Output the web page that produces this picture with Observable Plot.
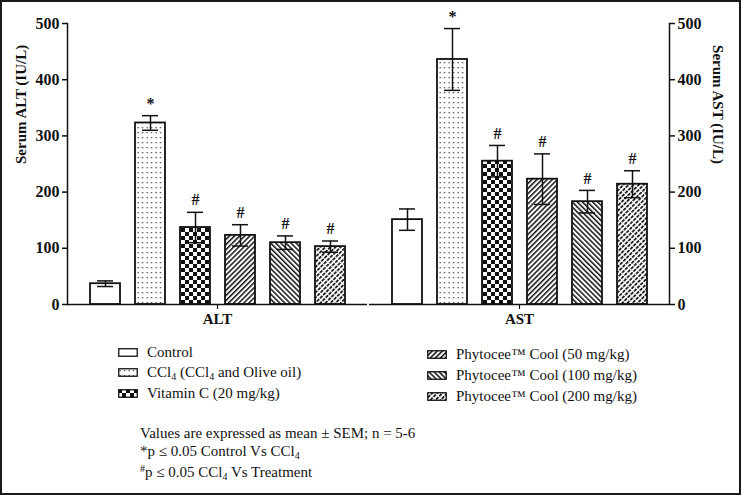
<!DOCTYPE html>
<html><head><meta charset="utf-8">
<script src="https://cdn.jsdelivr.net/npm/d3@7"></script>
<script src="https://cdn.jsdelivr.net/npm/@observablehq/plot@0.6"></script>
<style>
body{margin:0;background:#fff;}
#wrap{position:relative;width:741px;height:497px;font-family:"Liberation Serif","Times New Roman",serif;color:#111;background:#fff;}
#frame{position:absolute;left:0;top:0;width:741px;height:495px;border:2px solid #1a1a1a;box-sizing:border-box;pointer-events:none;}
#chart{position:absolute;left:0;top:0;}
.leg{position:absolute;font-size:15px;height:16px;line-height:16px;white-space:nowrap;display:flex;align-items:center;}
.sw{width:20px;height:9px;margin-right:9px;display:block;}
.note{position:absolute;left:140px;font-size:15px;line-height:16px;height:16px;white-space:nowrap;}
sub{font-size:10px;vertical-align:-3px;line-height:0;}
sup{font-size:10px;vertical-align:5px;line-height:0;}
</style></head><body>
<svg width="0" height="0" style="position:absolute;left:0;top:0">
<defs>
<pattern id="pControl" width="4" height="4" patternUnits="userSpaceOnUse"><rect width="4" height="4" fill="#fff"/></pattern>
<pattern id="pDots" width="4.5" height="5" patternUnits="userSpaceOnUse"><rect width="4.5" height="5" fill="#fff"/><rect x="1.5" y="2" width="1.3" height="1.3" fill="#444"/></pattern>
<pattern id="pCheck" width="8" height="8" patternUnits="userSpaceOnUse"><rect width="8" height="8" fill="#fff"/><rect width="4" height="4" fill="#111"/><rect x="4" y="4" width="4" height="4" fill="#111"/></pattern>
<pattern id="pFwd" width="3.6" height="3.6" patternUnits="userSpaceOnUse" patternTransform="rotate(45)"><rect width="3.6" height="3.6" fill="#fff"/><line x1="0" y1="0" x2="0" y2="3.6" stroke="#111" stroke-width="3"/></pattern>
<pattern id="pBack" width="3.6" height="3.6" patternUnits="userSpaceOnUse" patternTransform="rotate(-45)"><rect width="3.6" height="3.6" fill="#fff"/><line x1="0" y1="0" x2="0" y2="3.6" stroke="#111" stroke-width="3"/></pattern>
<pattern id="pDash" width="3.6" height="4.5" patternUnits="userSpaceOnUse" patternTransform="rotate(45)"><rect width="3.6" height="4.5" fill="#fff"/><line x1="0" y1="0" x2="0" y2="3.3" stroke="#111" stroke-width="3.4"/></pattern>
</defs>
</svg>
<div id="wrap"><div id="chart"></div><div id="legend"></div><div id="notes"></div><div id="frame"></div></div>
<script>
// ---- data ----
const groups = ["Control", "CCl4", "Vitamin C", "Phytocee 50", "Phytocee 100", "Phytocee 200"];
const groupLabels = ["Control", "CCl<sub>4</sub> (CCl<sub>4</sub> and Olive oil)", "Vitamin C (20 mg/kg)",
  "Phytocee\u2122 Cool (50 mg/kg)", "Phytocee\u2122 Cool (100 mg/kg)", "Phytocee\u2122 Cool (200 mg/kg)"];
const metrics = ["ALT", "AST"];
const altMean = [37, 323, 137, 123, 110, 103];
const altSem = [5, 13, 27, 19, 12, 10];
const astMean = [151, 436, 255, 223, 183, 214];
const astSem = [19, 55, 28, 45, 20, 24];
const sigMarks = ["", "*", "#", "#", "#", "#"];
const yTicks = [0, 100, 200, 300, 400, 500];
const patterns = ["url(#pControl)", "url(#pDots)", "url(#pCheck)", "url(#pFwd)", "url(#pBack)", "url(#pDash)"];
const leftLabel = "Serum ALT (IU/L)";
const rightLabel = "Serum AST (IU/L)";
const notes = ["Values are expressed as mean \u00b1 SEM; n = 5-6",
  "*p \u2264 0.05 Control Vs CCl<sub>4</sub>",
  "<sup>#</sup>p \u2264 0.05 CCl<sub>4</sub> Vs Treatment"];

const data = metrics.flatMap((m, k) => groups.map((g, i) => ({
  metric: m, group: g,
  mean: (k ? astMean : altMean)[i],
  sem: (k ? astSem : altSem)[i],
  sig: sigMarks[i]
})));

const ink = "#111";
const chart = Plot.plot({
  width: 741, height: 330,
  marginLeft: 66, marginRight: 71, marginTop: 23, marginBottom: 26,
  style: {fontFamily: '"Liberation Serif", "Times New Roman", serif', fontSize: "15px", color: ink, background: "transparent", overflow: "visible"},
  fx: {domain: metrics, paddingInner: 0.005, paddingOuter: 0, label: null},
  x: {domain: groups, paddingInner: 1/3, paddingOuter: 0.5, axis: null},
  y: {domain: [0, 500], label: null},
  color: {type: "ordinal", domain: groups, range: patterns},
  marks: [
    Plot.barY(data, {fx: "metric", x: "group", y: "mean", fill: "group", stroke: ink, strokeWidth: 1.8}),
    Plot.ruleX(data, {fx: "metric", x: "group", y1: d => d.mean - d.sem, y2: d => d.mean + d.sem, stroke: ink, strokeWidth: 1.5}),
    Plot.tickY(data, {fx: "metric", x: "group", y: d => d.mean + d.sem, insetLeft: 7, insetRight: 7, stroke: ink, strokeWidth: 1.5}),
    Plot.tickY(data, {fx: "metric", x: "group", y: d => d.mean - d.sem, insetLeft: 7, insetRight: 7, stroke: ink, strokeWidth: 1.5}),
    Plot.text(data.filter(d => d.sig), {fx: "metric", x: "group", y: d => d.mean + d.sem, text: "sig", dy: -12, fontWeight: "bold", fontSize: 16, fill: ink}),
    Plot.ruleY([0], {stroke: ink, strokeWidth: 1.5}),
    Plot.frame({anchor: "left", facetAnchor: "left", stroke: ink, strokeWidth: 1.5}),
    Plot.frame({anchor: "right", facetAnchor: "right", stroke: ink, strokeWidth: 1.5}),
    Plot.axisY({anchor: "left", facetAnchor: "left", ticks: yTicks, tickSize: 5, tickPadding: 3, fontWeight: "bold", fontSize: 16, label: null, stroke: ink, strokeWidth: 1.5}),
    Plot.axisY({anchor: "right", facetAnchor: "right", ticks: yTicks, tickSize: 5, tickPadding: 3, fontWeight: "bold", fontSize: 16, label: null, stroke: ink, strokeWidth: 1.5}),
    Plot.axisFx({anchor: "bottom", tickSize: 5, tickPadding: 4, fontWeight: "bold", fontSize: 15, label: null, stroke: ink, strokeWidth: 1.2}),
    Plot.text([leftLabel], {text: d => d, frameAnchor: "left", facetAnchor: "left", rotate: -90, dx: -46, fontWeight: "bold", fontSize: 15, fill: ink}),
    Plot.text([rightLabel], {text: d => d, frameAnchor: "right", facetAnchor: "right", rotate: 90, dx: 48, fontWeight: "bold", fontSize: 15, fill: ink})
  ]
});
document.getElementById("chart").appendChild(chart);

// ---- legend ----
const legend = document.getElementById("legend");
const legPos = [[118, 352], [118, 372], [118, 393], [427, 354], [427, 375], [427, 396]];
groups.forEach((g, i) => {
  const row = document.createElement("div");
  row.className = "leg";
  row.style.left = legPos[i][0] + "px";
  row.style.top = (legPos[i][1] - 8) + "px";
  row.innerHTML = `<svg class="sw" width="20" height="9"><rect x="0.75" y="0.75" width="18.5" height="7.5" fill="${patterns[i]}" stroke="${ink}" stroke-width="1.3"/></svg><span>${groupLabels[i]}</span>`;
  legend.appendChild(row);
});
const notesEl = document.getElementById("notes");
[433, 451, 472].forEach((y, i) => {
  const n = document.createElement("div");
  n.className = "note";
  n.style.top = (y - 8) + "px";
  n.innerHTML = notes[i];
  notesEl.appendChild(n);
});
</script>
</body></html>
